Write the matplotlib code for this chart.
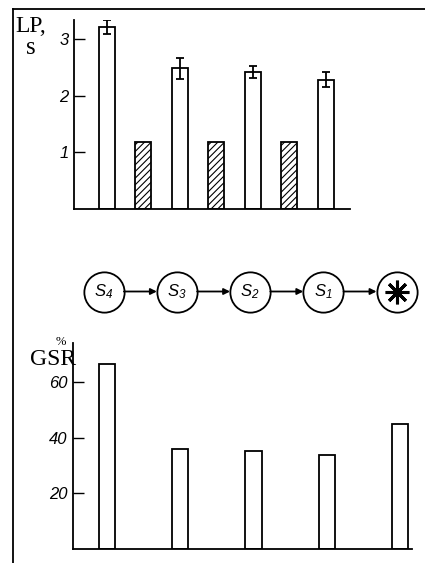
import matplotlib
matplotlib.use("Agg")
from matplotlib import pyplot as plt
from matplotlib.lines import Line2D

# latent period (s) for the seven trials of the top panel
lp_values = [3.22, 1.19, 2.49, 1.18, 2.42, 1.19, 2.29]
lp_err = [0.12, 0.0, 0.19, 0.0, 0.11, 0.0, 0.13]
lp_hatched = [False, True, False, True, False, True, False]
lp_ticks = [1, 2, 3]

# GSR (%) for each stimulus of the chain
gsr_values = [66.6, 36.0, 35.4, 33.8, 45.0]
gsr_ticks = [20, 40, 60]

# stimulus chain
stimuli = ["$S_4$", "$S_3$", "$S_2$", "$S_1$", "*"]

W, H = 425, 563
fig = plt.figure(figsize=(W / 100, H / 100), dpi=100)
fig.patch.set_facecolor("white")


def px_axes(left, top, right, bottom):
    return fig.add_axes([left / W, 1 - bottom / H, (right - left) / W, (bottom - top) / H])


def style(ax):
    for s in ("top", "right"):
        ax.spines[s].set_visible(False)
    for s in ("left", "bottom"):
        ax.spines[s].set_linewidth(1.3)
    ax.tick_params(axis="y", direction="in", length=8, width=1.0, pad=4)
    ax.tick_params(axis="x", length=0, labelbottom=False)
    for lab in ax.get_yticklabels():
        lab.set_fontfamily("Liberation Sans")
        lab.set_fontstyle("italic")
        lab.set_fontsize(12)


plt.rcParams["hatch.linewidth"] = 0.8
plt.rcParams["mathtext.fontset"] = "custom"
plt.rcParams["mathtext.it"] = "Liberation Sans:italic"
plt.rcParams["mathtext.rm"] = "Liberation Sans:italic"

# top panel
ax1 = px_axes(74, 20, 350, 209)
x1 = list(range(len(lp_values)))
for xi, v, e, h in zip(x1, lp_values, lp_err, lp_hatched):
    ax1.bar(xi, v, width=0.44, color="white", edgecolor="black", linewidth=1.3,
            hatch="/////" if h else None, zorder=2)
    if e > 0:
        ax1.errorbar(xi, v, yerr=e, color="black", elinewidth=1.3, capsize=3,
                     capthick=1.3, zorder=3)
ax1.set_xlim(-0.9, 6.66)
ax1.set_ylim(0, 3.345)
ax1.set_yticks(lp_ticks)
ax1.set_yticklabels([str(t) for t in lp_ticks])
style(ax1)

fig.text(15 / W, 1 - 32 / H, "LP,", fontfamily="Liberation Serif", fontsize=17, va="baseline")
fig.text(26 / W, 1 - 54 / H, "s", fontfamily="Liberation Serif", fontsize=18, va="baseline")

# bottom panel
ax2 = px_axes(73, 343, 412, 549)
x2 = [2 * i for i in range(len(gsr_values))]
ax2.bar(x2, gsr_values, width=0.44, color="white", edgecolor="black", linewidth=1.3, zorder=2)
ax2.set_xlim(-0.93, 8.33)
ax2.set_ylim(0, 74.2)
ax2.set_yticks(gsr_ticks)
ax2.set_yticklabels([str(t) for t in gsr_ticks])
style(ax2)

fig.text(30 / W, 1 - 365 / H, "GSR", fontfamily="Liberation Serif", fontsize=17, va="baseline")
fig.text(56 / W, 1 - 345 / H, "%", fontfamily="Liberation Serif", fontsize=9, va="baseline")

# stimulus chain diagram
ax3 = px_axes(73, 270, 412, 313)
ax3.set_xlim(ax2.get_xlim())
ax3.set_ylim(-1, 1)
ax3.axis("off")
xs = [p - 0.09 for p in x2]
ax3.plot(xs, [0] * len(xs), "o", ms=29, mfc="white", mec="black", mew=1.3, ls="none",
         zorder=2, clip_on=False)
for i, (xi, lab) in enumerate(zip(xs, stimuli)):
    if lab == "*":
        ax3.plot(xi, 0, marker=(8, 2, 0), ms=17, mew=2.2, color="black", zorder=3, clip_on=False)
    else:
        ax3.text(xi, 0, lab, ha="center", va="center", fontsize=12, zorder=3)
    if i + 1 < len(xs):
        ax3.annotate("", xy=(xs[i + 1], 0), xytext=(xi, 0),
                     arrowprops=dict(arrowstyle="-|>", color="black", lw=1.3,
                                     shrinkA=14.5, shrinkB=14.5, mutation_scale=9))

# scan frame border
fx = 13 / W
fy = 1 - 9 / H
fig.add_artist(Line2D([fx, 1], [fy, fy], color="black", lw=1.3))
fig.add_artist(Line2D([fx, fx], [0, fy], color="black", lw=1.3))

fig.savefig("out.png", dpi=100, facecolor="white")
